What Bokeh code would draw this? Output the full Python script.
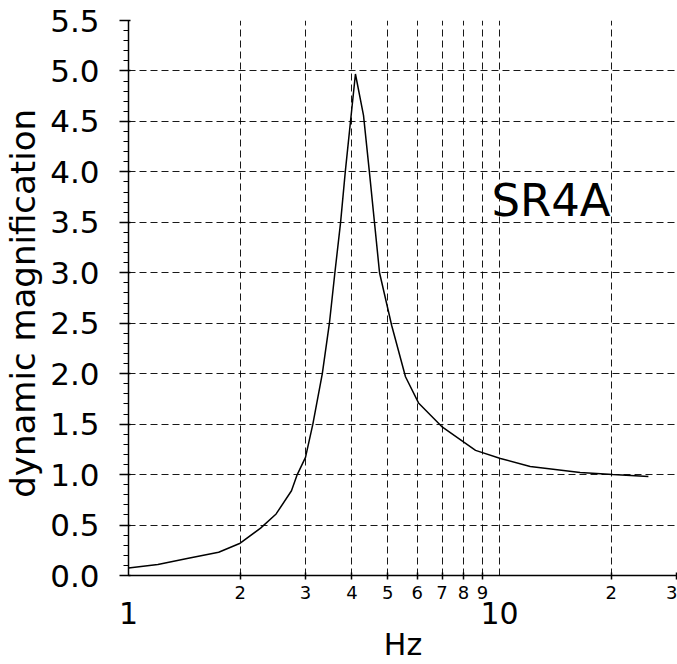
from bokeh.plotting import figure
from bokeh.models import FixedTicker, LogAxis, Range1d, Label, PrintfTickFormatter
from bokeh.embed import file_html
from bokeh.resources import INLINE

# ---- data ----
freq = [1.0, 1.2, 1.45, 1.75, 2.0, 2.27, 2.5, 2.75, 2.85, 3.0, 3.14, 3.33, 3.48,
        3.60, 3.73, 3.84, 4.09, 4.30, 4.46, 4.75, 5.12, 5.58, 6.05, 7.02, 8.62,
        10.06, 12.1, 16.5, 20.2, 25.2]
mag = [0.075, 0.11, 0.17, 0.23, 0.32, 0.47, 0.61, 0.84, 1.0, 1.17, 1.5, 2.0, 2.5,
       3.0, 3.5, 4.0, 4.97, 4.56, 4.0, 3.0, 2.48, 1.97, 1.71, 1.47, 1.24,
       1.16, 1.08, 1.02, 1.0, 0.98]

x_decade_ticks = [1, 10]
x_decade_labels = ["1", "10"]
x_sub_ticks = [2, 3, 4, 5, 6, 7, 8, 9, 20, 30]
x_sub_labels = ["2", "3", "4", "5", "6", "7", "8", "9", "2", "3"]
x_grid_ticks = [2, 3, 4, 5, 6, 7, 8, 9, 10, 20]
y_ticks = [0.0, 0.5, 1.0, 1.5, 2.0, 2.5, 3.0, 3.5, 4.0, 4.5, 5.0, 5.5]
y_minor_ticks = [round(i * 0.1, 1) for i in range(56)]
curve_name = "SR4A"

FONT = "DejaVu Sans"

p = figure(width=677, height=664, x_axis_type="log",
           x_range=Range1d(1, 30.19), y_range=Range1d(0, 5.5),
           output_backend="svg", toolbar_location=None,
           min_border_left=128, min_border_right=0,
           min_border_top=20, min_border_bottom=89)
p.outline_line_color = None
p.background_fill_color = "white"
p.border_fill_color = "white"

# x axis A: small sub-decade labels
xa = p.xaxis[0]
xa.ticker = FixedTicker(ticks=x_sub_ticks)
xa.major_label_overrides = {t: l for t, l in zip(x_sub_ticks, x_sub_labels)}
xa.major_label_text_font = FONT
xa.major_label_text_font_size = "18px"
xa.major_label_text_color = "black"
xa.major_label_standoff = 6
xa.major_tick_in = 3
xa.major_tick_out = 4
xa.minor_tick_line_color = None
xa.axis_line_color = "black"
xa.axis_line_width = 1.5
xa.major_tick_line_color = "black"
xa.major_tick_line_width = 1.5

# x axis B: decade labels + axis title
xb = LogAxis(ticker=FixedTicker(ticks=x_decade_ticks))
xb.major_label_overrides = {t: l for t, l in zip(x_decade_ticks, x_decade_labels)}
xb.major_label_text_font = FONT
xb.major_label_text_font_size = "30px"
xb.major_label_text_color = "black"
xb.major_label_standoff = 0
xb.major_tick_in = 0
xb.major_tick_out = 0
xb.major_tick_line_color = None
xb.minor_tick_line_color = None
xb.axis_line_color = None
xb.axis_label = "Hz"
xb.axis_label_text_font = FONT
xb.axis_label_text_font_size = "30px"
xb.axis_label_text_font_style = "normal"
xb.axis_label_text_color = "black"
xb.axis_label_standoff = 0
p.add_layout(xb, "below")

# y axis
ya = p.yaxis[0]
ya.ticker = FixedTicker(ticks=y_ticks, minor_ticks=y_minor_ticks)
ya.formatter = PrintfTickFormatter(format="%.1f")
ya.major_label_text_font = FONT
ya.major_label_text_font_size = "31px"
ya.major_label_text_color = "black"
ya.major_label_standoff = 20
ya.major_tick_in = 2
ya.major_tick_out = 9
ya.minor_tick_in = 0
ya.minor_tick_out = 5
ya.axis_line_color = "black"
ya.axis_line_width = 1.5
ya.major_tick_line_color = "black"
ya.major_tick_line_width = 1.5
ya.minor_tick_line_color = "black"
ya.minor_tick_line_width = 1.2
ya.axis_label = "dynamic  magnification"
ya.axis_label_text_font = FONT
ya.axis_label_text_font_size = "34px"
ya.axis_label_text_font_style = "normal"
ya.axis_label_text_color = "black"
ya.axis_label_standoff = 4

# grids
p.xgrid.ticker = FixedTicker(ticks=x_grid_ticks)
p.ygrid.ticker = FixedTicker(ticks=y_ticks)
for g in (p.xgrid[0], p.ygrid[0]):
    g.grid_line_color = "black"
    g.grid_line_dash = "7 4"
    g.grid_line_width = 1
    g.grid_line_alpha = 0.9

p.line(freq, mag, line_color="black", line_width=1.5)

p.add_layout(Label(x=9.51, y=3.72, text=curve_name, text_font=FONT,
                   text_font_size="45px", text_color="black",
                   text_baseline="alphabetic", text_align="left"))

open("out.html", "w").write(file_html(p, INLINE))
